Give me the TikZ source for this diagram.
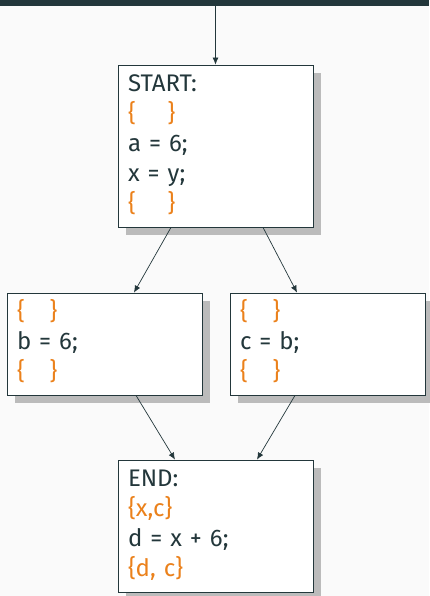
\documentclass[tikz,border=0pt]{standalone}
\usepackage{fontspec}
\setmainfont{Fira Sans}
\usetikzlibrary{arrows.meta,shadows}

\definecolor{slate}{HTML}{23373B}
\definecolor{live}{HTML}{EB811B}
\definecolor{paper}{HTML}{FAFAFA}
\definecolor{shade}{HTML}{BBBBBB}

% live-variable sets are printed in orange
\newcommand{\liveset}[1]{\textcolor{live}{#1}}
\newcommand{\noneset}[1][25pt]{\liveset{\{\hspace{#1}\}}}

\begin{document}
\begin{tikzpicture}[
        x=1pt,
        y=1pt,
        font=\fontsize{24}{30}\selectfont,
        block/.style={draw=slate, line width=0.8pt, fill=white, text=slate,
            text width=175pt, inner xsep=10pt, inner ysep=6pt, align=left,
            general shadow={fill=shade, shadow xshift=8pt, shadow yshift=-8pt}},
        flow/.style={draw=slate, line width=0.7pt, -{Latex[length=7pt,width=6pt]}}
    ]
        \useasboundingbox (0,0) rectangle (429,596);
        \fill[paper] (0,0) rectangle (429,596);
        \fill[slate] (0,590.3) rectangle (429,596);
        \coordinate (top) at (215.5,590.3);

        \node[block] (start) at (215.5,450) {\strut START:\\\noneset[32pt]\\a = 6;\\x = y;\\\noneset[32pt]\strut};
        \node[block] (bthen) at (104.5,252) {\strut\noneset\\b = 6;\\\noneset\strut};
        \node[block] (belse) at (327.5,252) {\strut\noneset\\c = b;\\\noneset\strut};
        \node[block] (join) at (215.5,70) {\strut END:\\\liveset{\{x,c\}}\\d = x + 6;\\\liveset{\{d, c\}}\strut};

        \draw[flow] (top) -- (start.north);
        \draw[flow] ([xshift=-44.5pt]start.south) -- ([xshift=29.5pt]bthen.north);
        \draw[flow] ([xshift=47.5pt]start.south) -- ([xshift=-30.5pt]belse.north);
        \draw[flow] ([xshift=31.5pt]bthen.south) -- ([xshift=-40.5pt]join.north);
        \draw[flow] ([xshift=-32.5pt]belse.south) -- ([xshift=41.5pt]join.north);
\end{tikzpicture}
\end{document}
